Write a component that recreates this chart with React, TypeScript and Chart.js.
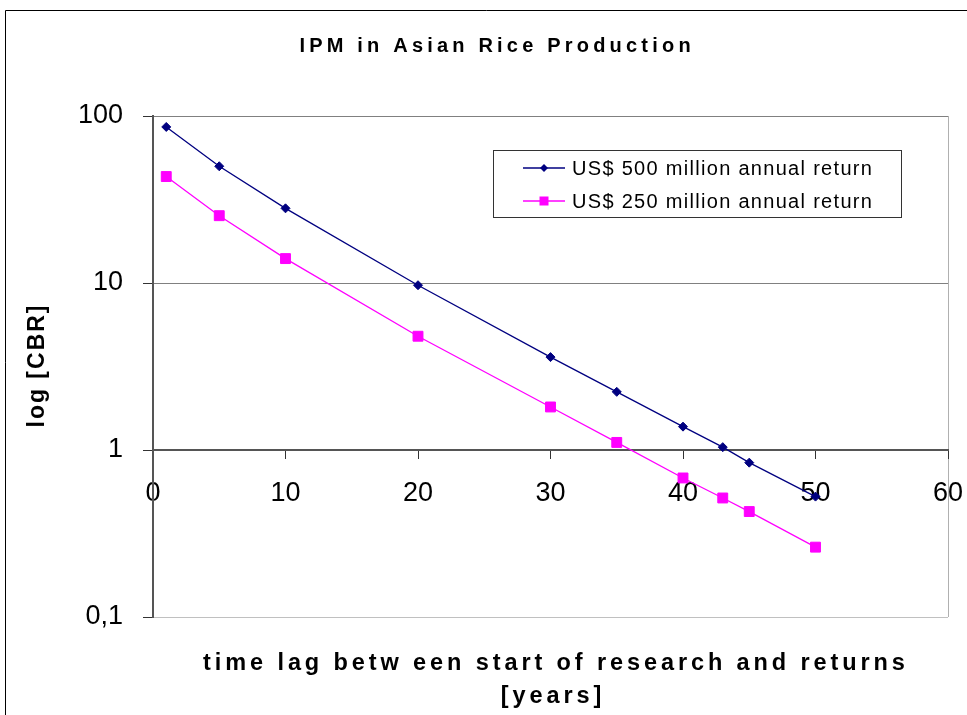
import React, { useEffect, useRef } from 'react';
import { Chart, registerables } from 'chart.js';

Chart.register(...registerables);

const FONT = "'Liberation Sans', Arial, Helvetica, sans-serif";

// ---- data ----
const years = [1, 5, 10, 20, 30, 35, 40, 43, 45, 50];
const cbr500 = [86, 50, 28, 9.7, 3.6, 2.23, 1.38, 1.04, 0.84, 0.526];
const cbr250 = [43.4, 25.3, 14.0, 4.8, 1.81, 1.11, 0.68, 0.516, 0.428, 0.262];
const seriesLabels = ['US$ 500 million annual return', 'US$ 250 million annual return'];
const yTicks = [0.1, 1, 10, 100];
const yTickLabels = ['0,1', '1', '10', '100'];
const xTicks = [0, 10, 20, 30, 40, 50, 60];
const chartTitle = 'IPM in Asian Rice Production';
const yTitle = 'log [CBR]';
const xTitle = ['time lag betw een start of research and returns', '[years]'];

const decor = {
  id: 'decor',
  afterDraw(chart: any) {
    const ctx = chart.ctx as CanvasRenderingContext2D;
    ctx.save();
    // outer frame
    ctx.strokeStyle = '#000';
    ctx.lineWidth = 1;
    ctx.beginPath();
    ctx.moveTo(5.5, chart.height);
    ctx.lineTo(5.5, 10.5);
    ctx.lineTo(chart.width, 10.5);
    ctx.stroke();

    const txt = (s: string, x: number, y: number, font: string, ls: number, align: CanvasTextAlign = 'center') => {
      ctx.font = font;
      (ctx as any).letterSpacing = ls + 'px';
      ctx.textAlign = align;
      ctx.fillText(s, align === 'center' ? x + ls / 2 : x, y);
    };
    ctx.fillStyle = '#000';
    ctx.textBaseline = 'alphabetic';
    txt(chartTitle, 495, 52, `bold 20px ${FONT}`, 4.2);
    txt(xTitle[0], 554, 669.5, `bold 23.5px ${FONT}`, 3.9);
    txt(xTitle[1], 551, 703, `bold 23.5px ${FONT}`, 3.9);

    ctx.save();
    ctx.translate(44, 366.5);
    ctx.rotate(-Math.PI / 2);
    txt(yTitle, 0, 0, `bold 23px ${FONT}`, 2);
    ctx.restore();

    // legend box
    const lx = 493.5, ly = 150.5, lw = 408, lh = 67;
    ctx.fillStyle = '#fff';
    ctx.fillRect(lx, ly, lw, lh);
    ctx.strokeStyle = '#333';
    ctx.lineWidth = 1;
    ctx.strokeRect(lx, ly, lw, lh);
    const rows = [168, 201];
    chart.data.datasets.forEach((ds: any, i: number) => {
      const y = rows[i];
      ctx.strokeStyle = ds.borderColor;
      ctx.lineWidth = 1.3;
      ctx.beginPath();
      ctx.moveTo(523, y);
      ctx.lineTo(565, y);
      ctx.stroke();
      ctx.fillStyle = ds.pointBackgroundColor;
      if (ds.pointStyle === 'rectRot') {
        const r = 4;
        ctx.beginPath();
        ctx.moveTo(544, y - r);
        ctx.lineTo(544 + r, y);
        ctx.lineTo(544, y + r);
        ctx.lineTo(544 - r, y);
        ctx.closePath();
        ctx.fill();
      } else {
        ctx.fillRect(544 - 4.5, y - 4.5, 9, 9);
      }
      ctx.fillStyle = '#000';
      ctx.textBaseline = 'middle';
      txt(ds.label, 572, y + 1, `20px ${FONT}`, 1.3, 'left');
    });
    ctx.restore();
  },
};

export default function App() {
  const ref = useRef<HTMLCanvasElement | null>(null);

  useEffect(() => {
    if (!ref.current) return;
    Chart.defaults.font.family = FONT;
    const chart = new Chart(ref.current, {
      type: 'line',
      data: {
        datasets: [
          {
            label: seriesLabels[0],
            data: years.map((x, i) => ({ x, y: cbr500[i] })),
            borderColor: '#000080',
            backgroundColor: '#000080',
            pointBackgroundColor: '#000080',
            pointBorderColor: '#000080',
            pointStyle: 'rectRot',
            pointRadius: 4.5,
            pointBorderWidth: 1,
            borderWidth: 1.3,
            tension: 0,
          },
          {
            label: seriesLabels[1],
            data: years.map((x, i) => ({ x, y: cbr250[i] })),
            borderColor: '#FF00FF',
            backgroundColor: '#FF00FF',
            pointBackgroundColor: '#FF00FF',
            pointBorderColor: '#FF00FF',
            pointStyle: 'rect',
            pointRadius: 7,
            pointBorderWidth: 1,
            borderWidth: 1.3,
            tension: 0,
          },
        ],
      } as any,
      options: {
        animation: false,
        responsive: false,
        events: [],
        layout: { padding: { top: 116, bottom: 98, left: 0, right: 19 } },
        plugins: {
          legend: { display: false },
          title: { display: false },
          tooltip: { enabled: false },
        },
        scales: {
          x: {
            type: 'linear',
            position: { y: 1 } as any,
            min: 0,
            max: 60,
            afterBuildTicks: (scale: any) => {
              scale.ticks = xTicks.map((v) => ({ value: v }));
            },
            afterFit: (scale: any) => {
              scale.paddingLeft = 0;
              scale.paddingRight = 0;
            },
            ticks: {
              autoSkip: false,
              maxRotation: 0,
              color: '#000',
              font: { size: 27, family: FONT },
              padding: 19,
              callback: (v: any) => String(v),
            },
            grid: {
              color: (c: any) => (c.tick && c.tick.value === 60 ? '#b0b0b0' : 'rgba(0,0,0,0)'),
              tickColor: '#333',
              tickLength: 8,
              lineWidth: 1,
            },
            border: { color: '#555', width: 2 },
          },
          y: {
            type: 'logarithmic',
            min: 0.1,
            max: 100,
            afterBuildTicks: (scale: any) => {
              scale.ticks = yTicks.map((v) => ({ value: v }));
            },
            afterFit: (scale: any) => {
              scale.width = 153;
            },
            ticks: {
              autoSkip: false,
              color: '#000',
              font: { size: 27, family: FONT },
              padding: 20,
              callback: (v: any) => {
                const i = yTicks.indexOf(Number(v));
                return i >= 0 ? yTickLabels[i] : '';
              },
            },
            grid: {
              color: (c: any) => (c.tick && c.tick.value === 0.1 ? '#c0c0c0' : '#808080'),
              tickColor: '#333',
              tickLength: 10,
              lineWidth: 1,
            },
            border: { color: '#555', width: 2 },
          },
        },
      } as any,
      plugins: [decor],
    });
    return () => chart.destroy();
  }, []);

  return (
    <div style={{ position: 'absolute', left: 0, top: 0, width: 967, height: 715, background: '#fff' }}>
      <canvas ref={ref} width={967} height={715} style={{ display: 'block' }} />
    </div>
  );
}
